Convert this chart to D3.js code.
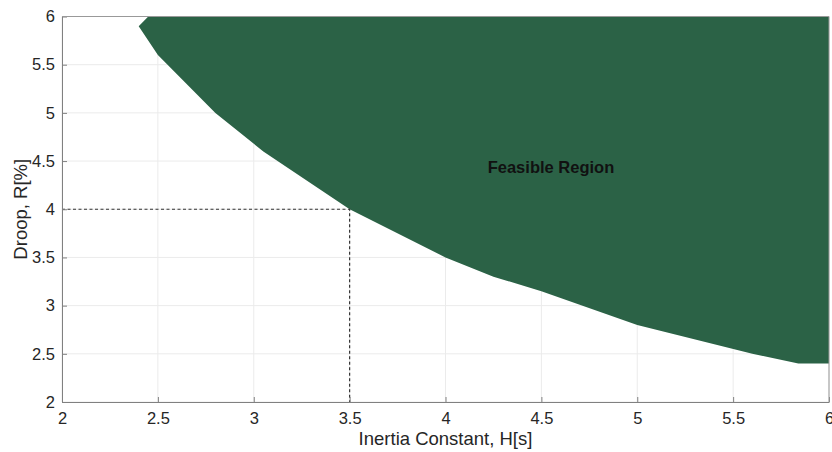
<!DOCTYPE html>
<html>
<head>
<meta charset="utf-8">
<script src="https://d3js.org/d3.v7.min.js"></script>
<style>
  body { margin: 0; background: #fff; }
  svg { font-family: "Liberation Sans", Arial, sans-serif; }
</style>
</head>
<body>
<svg id="chart" width="832" height="452"></svg>
<script>
// boundary of the feasible region (H, R)
var boundaryH = [2.45, 2.40, 2.50, 2.80, 3.05, 3.50, 4.00, 4.25, 4.50, 5.00, 5.60, 5.84, 6.00];
var boundaryR = [6.00, 5.90, 5.60, 5.00, 4.60, 4.00, 3.50, 3.30, 3.15, 2.80, 2.50, 2.40, 2.40];
var xTicks = [2, 2.5, 3, 3.5, 4, 4.5, 5, 5.5, 6];
var yTicks = [2, 2.5, 3, 3.5, 4, 4.5, 5, 5.5, 6];
var markH = 3.5, markR = 4;

var svg = d3.select("#chart");
var pLeft = 62, pRight = 829, pTop = 16.5, pBottom = 402;

var xs = d3.scaleLinear().domain([2, 6]).range([pLeft, pRight]);
var ys = d3.scaleLinear().domain([2, 6]).range([pBottom, pTop]);

// grid
var grid = svg.append("g");
grid.selectAll("line.gx").data(xTicks).enter().append("line")
    .attr("x1", d => xs(d)).attr("x2", d => xs(d))
    .attr("y1", pTop).attr("y2", pBottom)
    .attr("stroke", "#ebebeb").attr("stroke-width", 1);
grid.selectAll("line.gy").data(yTicks).enter().append("line")
    .attr("x1", pLeft).attr("x2", pRight)
    .attr("y1", d => ys(d)).attr("y2", d => ys(d))
    .attr("stroke", "#ebebeb").attr("stroke-width", 1);

// feasible region: boundary then back along the top-right corner
var pts = boundaryH.map((h, i) => [h, boundaryR[i]]);
pts.push([6, 6]);
svg.append("path")
    .datum(pts)
    .attr("fill", "#2b6246")
    .attr("stroke", "none")
    .attr("d", d3.line().x(d => xs(d[0])).y(d => ys(d[1])));

// dashed guide
svg.append("path")
    .attr("d", d3.line()([[xs(2), ys(markR)], [xs(markH), ys(markR)], [xs(markH), ys(2)]]))
    .attr("fill", "none")
    .attr("stroke", "#333")
    .attr("stroke-width", 1.2)
    .attr("stroke-dasharray", "3,2.5");

svg.append("text")
    .attr("x", xs(4.55)).attr("y", ys(4.44))
    .attr("text-anchor", "middle").attr("dominant-baseline", "central")
    .attr("font-weight", "bold").attr("font-size", 16.5)
    .attr("fill", "#111")
    .text("Feasible Region");

// axes
var xAxis = svg.append("g")
    .attr("transform", "translate(0," + pBottom + ")")
    .call(d3.axisBottom(xs).tickValues(xTicks).tickFormat(d3.format("~g")).tickSizeInner(-5).tickSizeOuter(0).tickPadding(10));
var yAxis = svg.append("g")
    .attr("transform", "translate(" + pLeft + ",0)")
    .call(d3.axisLeft(ys).tickValues(yTicks).tickFormat(d3.format("~g")).tickSizeInner(-5).tickSizeOuter(0).tickPadding(7));
[xAxis, yAxis].forEach(function(a) {
    a.attr("font-size", 16.5).attr("font-family", "Liberation Sans, Arial, sans-serif");
    a.select(".domain").attr("stroke", "#808080");
    a.selectAll(".tick line").attr("stroke", "#808080");
    a.selectAll(".tick text").attr("fill", "#262626");
});

// box top/right
svg.append("line").attr("x1", pLeft).attr("x2", pRight).attr("y1", pTop).attr("y2", pTop)
    .attr("stroke", "#999").attr("stroke-width", 1);
svg.append("line").attr("x1", pRight).attr("x2", pRight).attr("y1", pTop).attr("y2", pBottom)
    .attr("stroke", "#999").attr("stroke-width", 1);

svg.append("text")
    .attr("x", (pLeft + pRight) / 2).attr("y", 445)
    .attr("text-anchor", "middle").attr("font-size", 18.5).attr("fill", "#262626")
    .text("Inertia Constant, H[s]");
svg.append("text")
    .attr("transform", "translate(27," + ((pTop + pBottom) / 2) + ") rotate(-90)")
    .attr("text-anchor", "middle").attr("font-size", 18.5).attr("fill", "#262626")
    .text("Droop, R[%]");
</script>
</body>
</html>
